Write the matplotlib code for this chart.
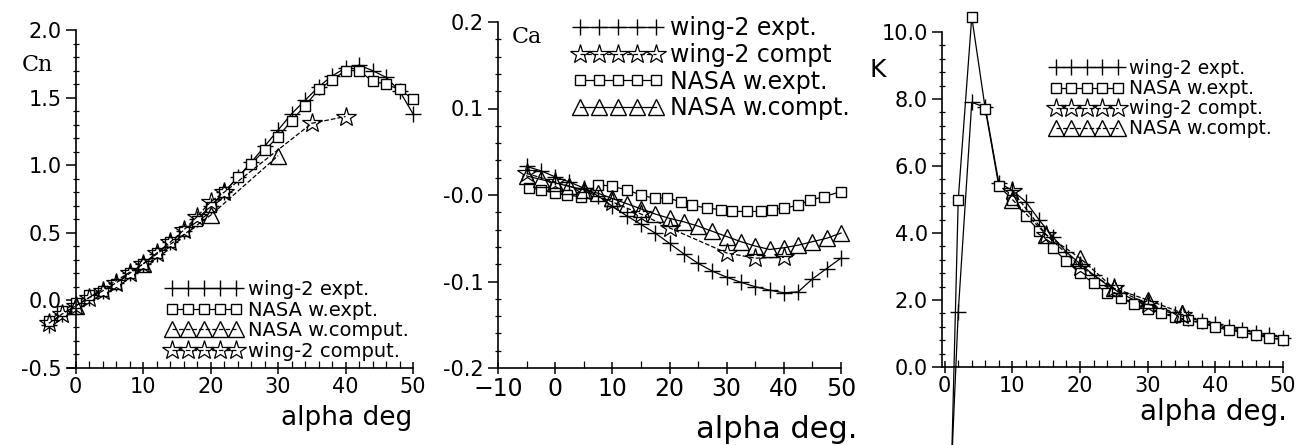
import matplotlib
matplotlib.use("Agg")
import matplotlib.pyplot as plt
from matplotlib.ticker import MultipleLocator, FixedLocator, FixedFormatter

plt.rcParams['font.family'] = 'DejaVu Sans'
plt.rcParams['axes.unicode_minus'] = False

# --- Panel 1: normal force coefficient Cn ---
cn_alpha_expt = [-4, -2, 0, 2, 4, 6, 8, 10, 12, 14, 16, 18, 20, 22, 24, 26, 28,
                 30, 32, 34, 36, 38, 40, 42, 44, 46, 48, 50]
cn_wing2_expt = [-0.18, -0.10, -0.04, 0.02, 0.07, 0.13, 0.20, 0.27, 0.34, 0.43,
                 0.51, 0.60, 0.70, 0.80, 0.91, 1.02, 1.14, 1.26, 1.38, 1.48,
                 1.58, 1.66, 1.72, 1.74, 1.70, 1.65, 1.55, 1.38]
cn_nasa_expt = [-0.15, -0.08, -0.02, 0.04, 0.07, 0.12, 0.20, 0.27, 0.35, 0.43,
                0.51, 0.59, 0.69, 0.80, 0.91, 1.01, 1.11, 1.21, 1.33, 1.44,
                1.56, 1.63, 1.70, 1.70, 1.62, 1.60, 1.56, 1.49]
cn_alpha_nasa_comp = [0, 10, 20, 30]
cn_nasa_comp = [-0.04, 0.27, 0.63, 1.07]
cn_alpha_wing2_comp = [-4, -2, 0, 2, 4, 6, 8, 10, 12, 14, 16, 18, 20, 22, 35, 40]
cn_wing2_comp = [-0.17, -0.10, -0.04, 0.02, 0.07, 0.13, 0.20, 0.27, 0.35, 0.43,
                 0.52, 0.62, 0.73, 0.80, 1.31, 1.36]

# --- Panel 2: axial force coefficient Ca ---
ca_alpha_wing2_expt = [-5, -2.5, 0, 2.5, 5, 7.5, 10, 12.5, 15, 17.5, 20, 22.5,
                       25, 27.5, 30, 32.5, 35, 37.5, 40, 42.5, 45, 47.5, 50]
ca_wing2_expt = [0.033, 0.028, 0.021, 0.015, 0.008, -0.001, -0.013, -0.024,
                 -0.034, -0.044, -0.056, -0.068, -0.079, -0.088, -0.095, -0.101,
                 -0.106, -0.110, -0.113, -0.112, -0.097, -0.085, -0.073]
ca_alpha_wing2_comp = [-5, 0, 5, 10, 15, 20, 30, 35, 40]
ca_wing2_comp = [0.025, 0.015, 0.005, -0.008, -0.022, -0.038, -0.067, -0.073, -0.072]
ca_alpha_nasa_expt = [-4.5, -2.5, 0, 2, 4.5, 7.5, 10, 12.5, 15, 17.5, 19.5, 22,
                      24, 26.5, 29, 31, 33.5, 36, 38, 40, 42.5, 44.5, 47, 50]
ca_nasa_expt = [0.008, 0.006, 0.002, 0.0, -0.002, 0.012, 0.010, 0.006, 0.0,
                -0.004, -0.003, -0.008, -0.012, -0.015, -0.017, -0.019, -0.019,
                -0.019, -0.017, -0.015, -0.012, -0.006, -0.002, 0.004]
ca_alpha_nasa_comp = [-5, -2.5, 0, 2.5, 5, 7.5, 10, 12.5, 15, 17.5, 20, 22.5,
                      25, 27.5, 30, 32.5, 35, 37.5, 40, 42.5, 45, 47.5, 50]
ca_nasa_comp = [0.022, 0.018, 0.014, 0.010, 0.006, 0.002, -0.004, -0.010,
                -0.016, -0.022, -0.027, -0.031, -0.036, -0.042, -0.048, -0.054,
                -0.059, -0.063, -0.061, -0.058, -0.054, -0.050, -0.044]

# --- Panel 3: lift/drag ratio K ---
k_alpha_expt = [1, 2, 4, 6, 8, 10, 12, 14, 16, 18, 20, 22, 24, 26, 28, 30, 32,
                34, 36, 38, 40, 42, 44, 46, 48, 50]
k_wing2_expt = [-3.0, 1.64, 7.9, 7.75, 5.5, 5.27, 4.93, 4.38, 3.88, 3.43, 3.08,
                2.75, 2.45, 2.2, 2.0, 1.85, 1.7, 1.58, 1.47, 1.37, 1.27, 1.18,
                1.1, 1.02, 0.95, 0.88]
k_nasa_expt = [-3.0, 5.0, 10.45, 7.7, 5.4, 5.0, 4.5, 4.05, 3.55, 3.15, 2.8, 2.5,
               2.22, 2.05, 1.88, 1.74, 1.6, 1.49, 1.4, 1.31, 1.19, 1.1, 1.04,
               0.95, 0.87, 0.81]
k_alpha_comp = [10, 15, 20, 25, 30, 35]
k_wing2_comp = [5.25, 3.95, 3.0, 2.35, 1.88, 1.55]
k_nasa_comp = [5.0, 3.95, 3.25, 2.35, 2.0, 1.62]

ca_tick_labels = ['-0.2', '-0.1', '-0.0', '0.1', '0.2']
ca_xtick_labels = ['\u221210', '0', '10', '20', '30', '40', '50']

W, H = 1306, 445
LW = 0.9

STY = {
    'plus': dict(marker='+', ms=11, mew=1.0),
    'square': dict(marker='s', ms=7.5, mew=1.0, mfc='white'),
    'tri': dict(marker='^', ms=11, mew=1.0, mfc='none'),
    'star': dict(marker='*', ms=15, mew=0.9, mfc='none'),
}


def fig_axes(fig, x0, y0, x1, y1):
    # pixel box (left, top, right, bottom) -> figure fraction
    return fig.add_axes([x0 / W, 1 - y1 / H, (x1 - x0) / W, (y1 - y0) / H])


def series(ax, x, y, kind, ls='-', label=None):
    return ax.plot(x, y, color='black', lw=LW, ls=ls, label=label,
                   mec='black', clip_on=False, **STY[kind])[0]


def style_axes(ax):
    for s in ['top', 'right']:
        ax.spines[s].set_visible(False)
    ax.spines['left'].set_linewidth(1.2)
    ax.spines['bottom'].set_linewidth(1.2)
    ax.tick_params(axis='both', which='major', labelsize=15, width=1.1)
    ax.tick_params(axis='y', which='major', direction='out', length=7, pad=3)
    ax.tick_params(axis='y', which='minor', direction='inout', length=5, width=0.9)
    ax.tick_params(axis='x', which='major', direction='inout', length=9, pad=2)
    ax.tick_params(axis='x', which='minor', direction='in', length=5, width=0.9)
    ax.patch.set_alpha(0)


def legend(ax, handles, labels, x, y, fs, hl, sp):
    leg = ax.legend(handles, labels, numpoints=5, loc='upper left',
                    bbox_to_anchor=(x / W, 1 - y / H),
                    bbox_transform=ax.figure.transFigure, frameon=False,
                    fontsize=fs, handlelength=hl, handletextpad=0.3,
                    labelspacing=sp, borderpad=0, borderaxespad=0)
    return leg


fig = plt.figure(figsize=(W / 100, H / 100), dpi=100)

# Panel 1
ax1 = fig_axes(fig, 42, 30, 413, 368)
style_axes(ax1)
h1 = series(ax1, cn_alpha_expt, cn_wing2_expt, 'plus')
h2 = series(ax1, cn_alpha_expt, cn_nasa_expt, 'square')
h3 = series(ax1, cn_alpha_nasa_comp, cn_nasa_comp, 'tri', ls='--')
h4 = series(ax1, cn_alpha_wing2_comp, cn_wing2_comp, 'star', ls='--')
ax1.set_xlim(-5, 50)
ax1.set_ylim(-0.5, 2.0)
ax1.spines['left'].set_position(('data', 0))
ax1.spines['bottom'].set_bounds(-1.2, 50)
ax1.xaxis.set_major_locator(FixedLocator([0, 10, 20, 30, 40, 50]))
ax1.xaxis.set_minor_locator(FixedLocator(list(range(2, 50, 2))))
ax1.yaxis.set_major_locator(MultipleLocator(0.5))
ax1.yaxis.set_minor_locator(MultipleLocator(0.1))
ax1.yaxis.set_major_formatter(matplotlib.ticker.FormatStrFormatter('%.1f'))
legend(ax1, [h1, h2, h3, h4],
       ['wing-2 expt.', 'NASA w.expt.', 'NASA w.comput.', 'wing-2 comput.'],
       166, 280, 14, 3.9, 0.08)
fig.text(22 / W, 1 - 65 / H, 'Cn', family='DejaVu Serif', fontsize=16,
         ha='left', va='center')
fig.text(412 / W, 1 - 418 / H, 'alpha deg', fontsize=19, ha='right', va='center')

# Panel 2
ax2 = fig_axes(fig, 498, 22, 841, 368)
style_axes(ax2)
g1 = series(ax2, ca_alpha_wing2_expt, ca_wing2_expt, 'plus')
g2 = series(ax2, ca_alpha_wing2_comp, ca_wing2_comp, 'star', ls='--')
g3 = series(ax2, ca_alpha_nasa_expt, ca_nasa_expt, 'square')
g4 = series(ax2, ca_alpha_nasa_comp, ca_nasa_comp, 'tri')
ax2.set_xlim(-10, 50)
ax2.set_ylim(-0.2, 0.2)
ax2.xaxis.set_major_locator(FixedLocator([-10, 0, 10, 20, 30, 40, 50]))
ax2.xaxis.set_major_formatter(FixedFormatter(ca_xtick_labels))
ax2.xaxis.set_minor_locator(FixedLocator([-5, 5, 15, 25, 35, 45]))
ax2.yaxis.set_major_locator(FixedLocator([-0.2, -0.1, 0.0, 0.1, 0.2]))
ax2.yaxis.set_major_formatter(FixedFormatter(ca_tick_labels))
ax2.yaxis.set_minor_locator(MultipleLocator(0.02))
ax2.tick_params(axis='x', which='major', labelsize=17)
legend(ax2, [g1, g2, g3, g4],
       ['wing-2 expt.', 'wing-2 compt', 'NASA w.expt.', 'NASA w.compt.'],
       573, 16, 17, 3.8, 0.12)
fig.text(512 / W, 1 - 37 / H, 'Ca', family='DejaVu Serif', fontsize=16,
         ha='left', va='center')
fig.text(857 / W, 1 - 430 / H, 'alpha deg.', fontsize=22, ha='right', va='center')

# Panel 3
ax3 = fig_axes(fig, 942, 32, 1283, 367)
style_axes(ax3)
k1 = series(ax3, k_alpha_expt, k_wing2_expt, 'plus')
k2 = series(ax3, k_alpha_expt, k_nasa_expt, 'square')
k3 = series(ax3, k_alpha_comp, k_wing2_comp, 'star', ls='--')
k4 = series(ax3, k_alpha_comp, k_nasa_comp, 'tri', ls='--')
ax3.set_xlim(-0.4, 50)
ax3.set_ylim(0, 10)
ax3.xaxis.set_major_locator(FixedLocator([0, 10, 20, 30, 40, 50]))
ax3.xaxis.set_minor_locator(FixedLocator(list(range(2, 50, 2))))
ax3.yaxis.set_major_locator(MultipleLocator(2))
ax3.yaxis.set_minor_locator(MultipleLocator(0.4))
ax3.yaxis.set_major_formatter(matplotlib.ticker.FormatStrFormatter('%.1f'))
legend(ax3, [k1, k2, k3, k4],
       ['wing-2 expt.', 'NASA w.expt.', 'wing-2 compt.', 'NASA w.compt.'],
       1050, 59, 13.5, 3.9, 0.06)
fig.text(870 / W, 1 - 70 / H, 'K', fontsize=18, ha='left', va='center')
fig.text(1287 / W, 1 - 412 / H, 'alpha deg.', fontsize=20, ha='right', va='center')

fig.savefig('out.png', dpi=100)
